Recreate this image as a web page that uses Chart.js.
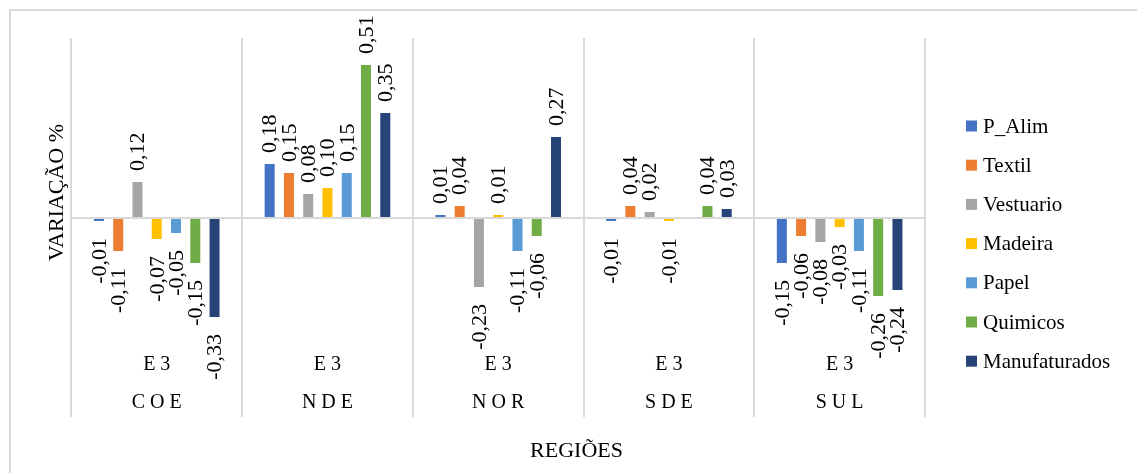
<!DOCTYPE html>
<html lang="pt-BR">
<head>
<meta charset="utf-8">
<title>Variação % por região</title>
<script src="https://cdn.jsdelivr.net/npm/chart.js@4.4.1/dist/chart.umd.min.js"></script>
<style>
  html, body { margin: 0; padding: 0; background: #fff; overflow: hidden; }
  #wrap { position: relative; width: 1137px; height: 473px; }
  #frame {
    position: absolute; left: 9px; top: 9px;
    width: 1150px; height: 480px;
    border: 2px solid #d9d9d9; box-sizing: border-box;
  }
  #chart { position: absolute; left: 0; top: 0; }
</style>
</head>
<body>
<div id="wrap">
  <div id="frame"></div>
  <canvas id="chart" width="1137" height="473"></canvas>
</div>
<script>
// Regions and the scenario shown under each group
const regions = ['COE', 'NDE', 'NOR', 'SDE', 'SUL']
const scenario = 'E 3'

// Variation by sector, one value per region (COE, NDE, NOR, SDE, SUL)
const pAlim = [-0.01, 0.18, 0.01, -0.01, -0.15]
const textil = [-0.11, 0.15, 0.04, 0.04, -0.06]
const vestuario = [0.12, 0.08, -0.23, 0.02, -0.08]
const madeira = [-0.07, 0.10, 0.01, -0.01, -0.03]
const papel = [-0.05, 0.15, -0.11, null, -0.11]
const quimicos = [-0.15, 0.51, -0.06, 0.04, -0.26]
const manufaturados = [-0.33, 0.35, 0.27, 0.03, -0.24]

const sectorNames = ['P_Alim', 'Textil', 'Vestuario', 'Madeira', 'Papel', 'Quimicos', 'Manufaturados']
const sectorValues = [pAlim, textil, vestuario, madeira, papel, quimicos, manufaturados]
const sectorColors = ['#4472c4', '#ed7d31', '#a5a5a5', '#ffc000', '#5b9bd5', '#70ad47', '#264478']

const SERIF = "'Liberation Serif', 'Times New Roman', serif"
const GRID = '#d9d9d9'

function formatValue(v) {
  return v.toFixed(2).replace('.', ',')
}

// Value labels written vertically at the end of each bar
const barLabels = {
  id: 'barLabels',
  afterDatasetsDraw(chart) {
    const ctx = chart.ctx
    ctx.save()
    ctx.font = '22px ' + SERIF
    ctx.fillStyle = '#000'
    ctx.textBaseline = 'middle'
    chart.data.datasets.forEach((ds, di) => {
      const meta = chart.getDatasetMeta(di)
      meta.data.forEach((bar, i) => {
        const v = ds.data[i]
        if (v === null || v === undefined) return
        ctx.save()
        if (v >= 0) {
          ctx.translate(bar.x + 1, bar.y - 11)
          ctx.textAlign = 'left'
        } else {
          ctx.translate(bar.x + 1, bar.y + 17)
          ctx.textAlign = 'right'
        }
        ctx.rotate(-Math.PI / 2)
        ctx.fillText(formatValue(v), 0, 0)
        ctx.restore()
      })
    })
    ctx.restore()
  }
}

// Two-level category labels (scenario, then region) between the separators
const groupLabels = {
  id: 'groupLabels',
  afterDraw(chart) {
    const ctx = chart.ctx
    const xScale = chart.scales.x
    const bottom = chart.chartArea.bottom
    ctx.save()
    ctx.font = '20px ' + SERIF
    ctx.fillStyle = '#000'
    ctx.textAlign = 'center'
    ctx.textBaseline = 'middle'
    regions.forEach((r, i) => {
      const x = xScale.getPixelForValue(i)
      ctx.fillText(scenario, x, bottom + 18)
      ctx.fillText(r.split('').join(' '), x, bottom + 56)
    })
    ctx.restore()
  }
}

// Sector legend on the right and the horizontal axis title
const sideLegend = {
  id: 'sideLegend',
  afterDraw(chart) {
    const ctx = chart.ctx
    const area = chart.chartArea
    ctx.save()
    ctx.font = '21px ' + SERIF
    ctx.textBaseline = 'middle'
    ctx.textAlign = 'left'
    chart.data.datasets.forEach((ds, i) => {
      const cy = area.top + 88 + i * 39.2
      const bx = area.right + 41
      ctx.fillStyle = ds.backgroundColor
      ctx.fillRect(bx, cy - 5.5, 11, 11)
      ctx.fillStyle = '#000'
      ctx.fillText(ds.label, bx + 17, cy + 1)
    })

    ctx.font = '22px ' + SERIF
    ctx.textAlign = 'center'
    ctx.fillText('REGIÕES', chart.width / 2 + 8, 451)
    ctx.restore()
  }
}

const datasets = sectorNames.map((name, i) => ({
  label: name,
  data: sectorValues[i],
  backgroundColor: sectorColors[i],
  borderWidth: 0,
  categoryPercentage: 0.79,
  barPercentage: 0.52
}))

new Chart(document.getElementById('chart'), {
  type: 'bar',
  data: {
    labels: regions,
    datasets: datasets
  },
  options: {
    responsive: false,
    maintainAspectRatio: false,
    animation: false,
    devicePixelRatio: 1,
    layout: {
      padding: { left: 37, top: 38, right: 212, bottom: 56 }
    },
    plugins: {
      legend: { display: false },
      tooltip: { enabled: false }
    },
    scales: {
      x: {
        border: { display: false },
        grid: {
          offset: true,
          color: GRID,
          lineWidth: 2,
          drawTicks: true,
          tickLength: 70
        },
        ticks: { display: false }
      },
      y: {
        min: -0.43,
        max: 0.6,
        border: { display: false },
        grid: {
          drawTicks: false,
          lineWidth: 2,
          color: ctx => (ctx.tick && Math.abs(ctx.tick.value) < 1e-9 ? GRID : 'rgba(0,0,0,0)')
        },
        ticks: { display: false, stepSize: 0.1 },
        title: {
          display: true,
          text: 'VARIAÇÃO %',
          color: '#000',
          font: { family: SERIF, size: 22 },
          padding: { top: 7, bottom: 1 }
        }
      }
    }
  },
  plugins: [barLabels, groupLabels, sideLegend]
})
</script>
</body>
</html>
